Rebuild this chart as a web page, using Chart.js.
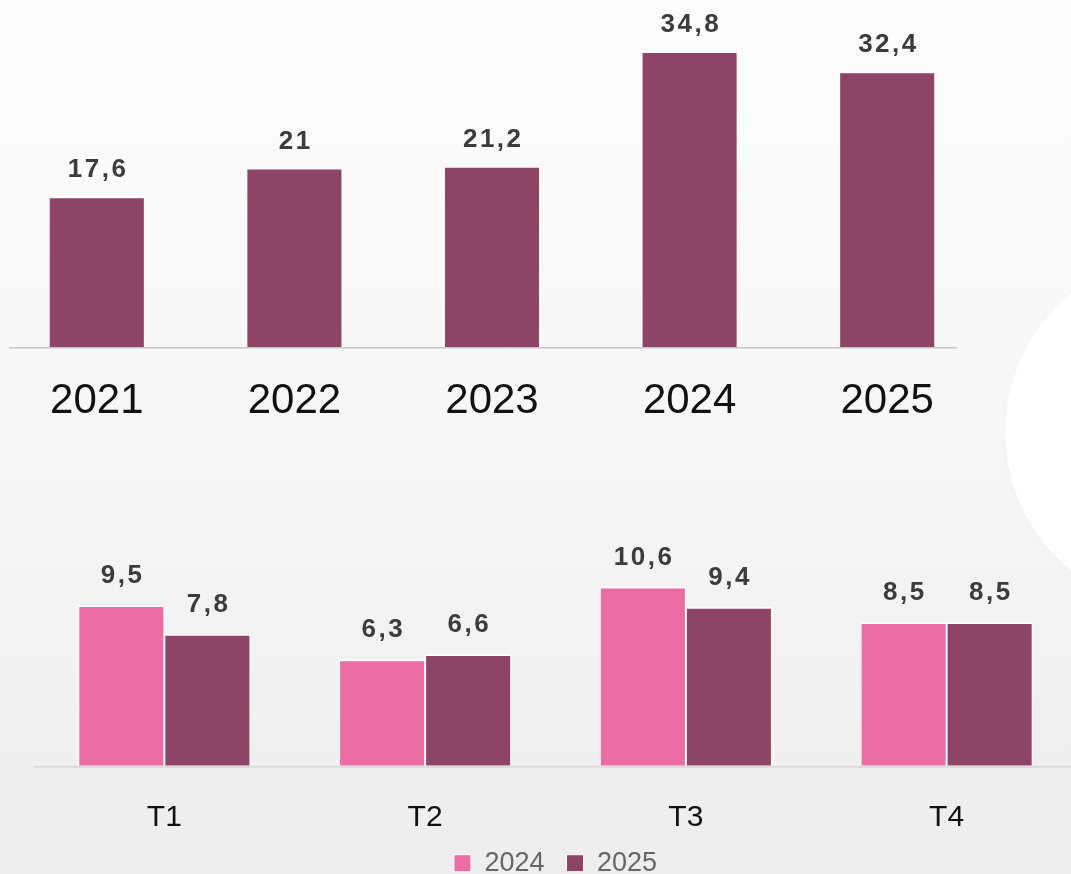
<!DOCTYPE html>
<html>
<head>
<meta charset="utf-8">
<script src="https://cdn.jsdelivr.net/npm/chart.js@4.4.1/dist/chart.umd.min.js"></script>
<style>
  html, body { margin: 0; padding: 0; overflow: hidden; }
  #stage {
    position: relative; width: 1071px; height: 874px; overflow: hidden;
    background: linear-gradient(180deg, #fcfcfc 0%, #f7f7f7 45%, #ededed 100%);
  }
  #deco {
    position: absolute; left: 1005px; top: 253px; width: 358px; height: 358px;
    border-radius: 50%; background: #ffffff; box-shadow: 0 0 6px rgba(0,0,0,0.025);
  }
  #top { position: absolute; left: -2px; top: 0; }
  #bottom { position: absolute; left: 0; top: 520px; }
</style>
</head>
<body>
<div id="stage">
  <div id="deco"></div>
  <canvas id="top" width="1073" height="440"></canvas>
  <canvas id="bottom" width="1080" height="400"></canvas>
</div>
<script>
// ---- data ----
const yearLabels = ['2021', '2022', '2023', '2024', '2025'];
const yearValues = [17.6, 21, 21.2, 34.8, 32.4];

const quarterLabels = ['T1', 'T2', 'T3', 'T4'];
const seriesNames = ['2024', '2025'];
const values2024 = [9.5, 6.3, 10.6, 8.5];
const values2025 = [7.8, 6.6, 9.4, 8.5];

// ---- styling ----
const PINK = '#ec6ca5';
const MAROON = '#8e4466';
const FONT = "'Liberation Sans', Arial, Helvetica, sans-serif";

function fmt(v) { return String(v).replace('.', ','); }

const valueLabels = {
  id: 'valueLabels',
  afterDatasetsDraw(chart, args, opts) {
    const ctx = chart.ctx;
    ctx.save();
    ctx.font = opts.font;
    ctx.fillStyle = opts.color;
    ctx.textAlign = 'center';
    ctx.textBaseline = 'middle';
    let shift = 0;
    if ('letterSpacing' in ctx) { ctx.letterSpacing = opts.spacing + 'px'; shift = opts.spacing / 2; }
    chart.data.datasets.forEach((ds, i) => {
      const meta = chart.getDatasetMeta(i);
      meta.data.forEach((el, j) => {
        ctx.fillText(fmt(ds.data[j]), el.x + shift, el.y - opts.offset);
      });
    });
    ctx.restore();
  }
};

const baseLine = {
  id: 'baseLine',
  beforeDatasetsDraw(chart, args, opts) {
    const ctx = chart.ctx;
    const y = chart.scales.y.getPixelForValue(0);
    const a = chart.chartArea;
    ctx.save();
    ctx.strokeStyle = opts.color;
    ctx.lineWidth = opts.width;
    ctx.beginPath();
    ctx.moveTo(a.left + opts.startInset, y + opts.width / 2);
    ctx.lineTo(a.right - opts.endInset, y + opts.width / 2);
    ctx.stroke();
    ctx.restore();
  }
};

Chart.defaults.font.family = FONT;

// ---- top chart: yearly ----
new Chart(document.getElementById('top'), {
  type: 'bar',
  data: {
    labels: yearLabels,
    datasets: [{
      data: yearValues,
      backgroundColor: MAROON,
      borderWidth: 0,
      categoryPercentage: 1,
      barPercentage: 0.476
    }]
  },
  options: {
    responsive: false,
    animation: false,
    devicePixelRatio: 1,
    layout: { padding: { left: 0, right: 85, top: 9, bottom: 15 } },
    plugins: {
      legend: { display: false },
      tooltip: { enabled: false },
      valueLabels: { font: "bold 26px " + FONT, color: '#3c3c3c', offset: 28, spacing: 2.5 },
      baseLine: { color: '#c6c6c6', width: 1.5, startInset: 11, endInset: 29 }
    },
    scales: {
      x: {
        grid: { display: false, drawTicks: false },
        border: { display: false },
        ticks: { color: '#111111', font: { size: 42 }, padding: 29.5 },
        afterFit(scale) { scale.height = 78; }
      },
      y: { display: false, min: 0, max: 40 }
    }
  },
  plugins: [valueLabels, baseLine]
});

// ---- bottom chart: quarterly ----
new Chart(document.getElementById('bottom'), {
  type: 'bar',
  data: {
    labels: quarterLabels,
    datasets: [
      {
        label: seriesNames[0],
        data: values2024,
        backgroundColor: PINK,
        borderColor: '#ffffff',
        borderWidth: { top: 2, left: 1, right: 1, bottom: 0 },
        categoryPercentage: 0.66,
        barPercentage: 1
      },
      {
        label: seriesNames[1],
        data: values2025,
        backgroundColor: MAROON,
        borderColor: '#ffffff',
        borderWidth: { top: 2, left: 1, right: 1, bottom: 0 },
        categoryPercentage: 0.66,
        barPercentage: 1
      }
    ]
  },
  options: {
    responsive: false,
    animation: false,
    devicePixelRatio: 1,
    layout: { padding: { left: 34, right: 3, top: 42.7, bottom: 33.3 } },
    plugins: {
      legend: {
        display: true,
        position: 'bottom',
        labels: {
          boxWidth: 17,
          boxHeight: 17,
          padding: 22,
          color: '#666666',
          font: { size: 27 },
          generateLabels(chart) {
            return chart.data.datasets.map((ds, i) => ({
              text: ds.label,
              fillStyle: ds.backgroundColor,
              strokeStyle: '#ffffff',
              lineWidth: 1,
              hidden: false,
              datasetIndex: i,
              fontColor: '#666666'
            }));
          }
        }
      },
      tooltip: { enabled: false },
      valueLabels: { font: "bold 26px " + FONT, color: '#3c3c3c', offset: 29, spacing: 2.5 },
      baseLine: { color: '#d9d9d9', width: 2, startInset: 0, endInset: -10 }
    },
    scales: {
      x: {
        grid: { display: false, drawTicks: false },
        border: { display: false },
        ticks: { color: '#111111', font: { size: 30 }, padding: 34 },
        afterFit(scale) { scale.height = 62; }
      },
      y: { display: false, min: 0, max: 12 }
    }
  },
  plugins: [valueLabels, baseLine]
});
</script>
</body>
</html>
